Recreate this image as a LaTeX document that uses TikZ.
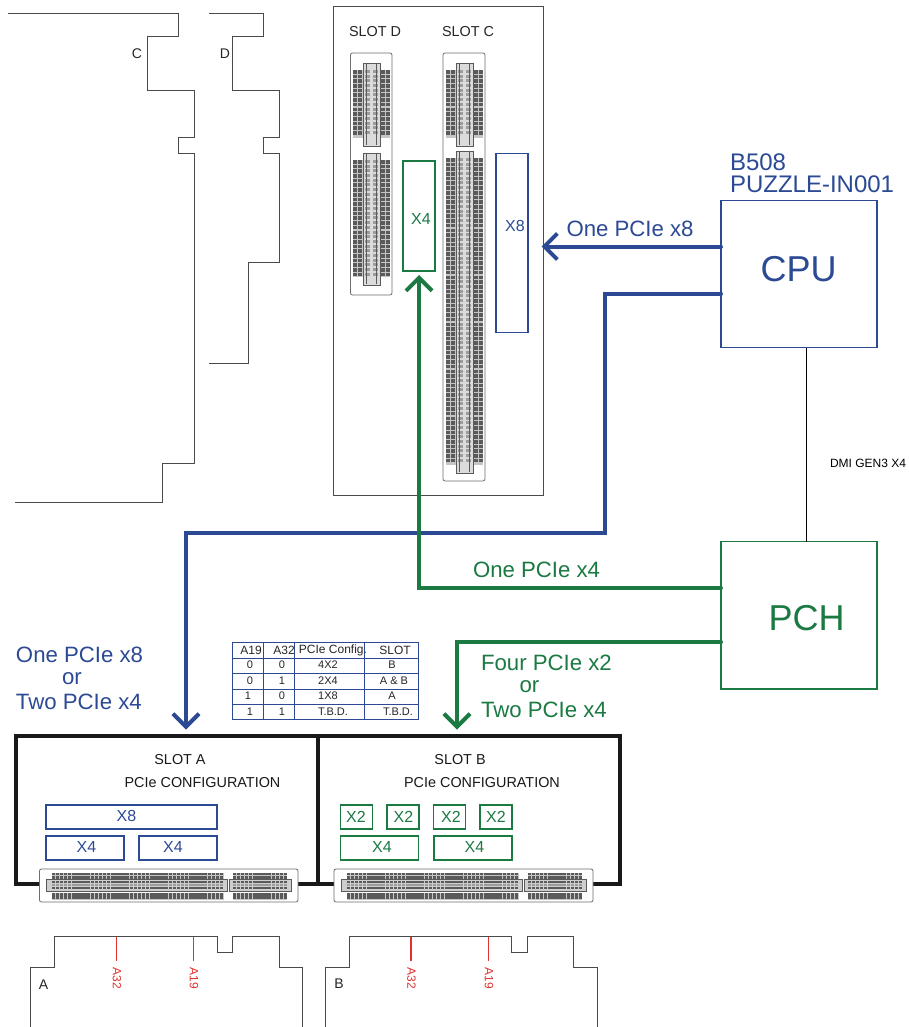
\documentclass[tikz,border=0pt]{standalone}
\usepackage{fontspec}
\setmainfont{Liberation Sans}
\usetikzlibrary{arrows.meta}
\definecolor{cblue}{HTML}{2C4A94}
\definecolor{cgreen}{HTML}{1A7A42}
\definecolor{cred}{HTML}{E0322F}
\definecolor{cout}{HTML}{4A4A4A}
\definecolor{cpin}{HTML}{5A5A5A}
\newcommand{\fs}[1]{\fontsize{#1}{#1}\selectfont}
\tikzset{
  x=1pt,y=-1pt,
  every node/.style={inner sep=0pt,outer sep=0pt},
  txt/.style={text=#1,anchor=center},
  bluebox/.style={draw=cblue,line width=1.8pt,minimum width=#1,fill=none},
  greenbox/.style={draw=cgreen,line width=1.8pt,minimum width=#1,fill=none},
  cardline/.style={draw=cout,line width=1pt},
  bluewire/.style={draw=cblue,line width=4pt,line cap=round,miter limit=10},
  greenwire/.style={draw=cgreen,line width=4pt,line cap=round,miter limit=10},
  barb/.style={-{Straight Barb[length=13pt,width=26pt,line width=4pt]}},
  slotframe/.style={draw=black!90,line width=4pt,anchor=north west},
  shell/.style={draw=cout!80,line width=0.8pt,fill=white,rounded corners=2pt},
  pin/.style={fill=cpin,draw=none},
  pinl/.style={fill=cpin!60,draw=none},
  base/.style={fill=cpin!35,draw=none},
  rail/.style={draw=cpin,line width=0.8pt},
}
% vertical connector segment: centre x, top, bottom
\newcommand{\vpins}[3]{%
  \fill[base] (#1-18.5,#2+7) rectangle (#1-8.5,#3-8);
  \fill[base] (#1+8.5,#2+7) rectangle (#1+18.5,#3-8);
  \fill[cpin!22] (#1-8.5,#2) rectangle (#1+8.5,#3);
  \pgfmathsetmacro{\ys}{#2+7}\pgfmathsetmacro{\ye}{#3-11}\pgfmathsetmacro{\yn}{\ys+4.7}%
  \foreach \yy in {\ys,\yn,...,\ye}{%
    \fill[pin] (#1-18.5,\yy) rectangle ++(4.4,3.6);
    \fill[pin] (#1-13.5,\yy) rectangle ++(4.4,3.6);
    \fill[pin] (#1+9,\yy) rectangle ++(4.4,3.6);
    \fill[pin] (#1+14,\yy) rectangle ++(4.4,3.6);
    \fill[pinl] (#1-6.5,\yy) rectangle ++(5,3);
    \fill[pinl] (#1+1.5,\yy) rectangle ++(5,3);
  }%
  \draw[rail] (#1-8.5,#2) rectangle (#1+8.5,#3);
  \draw[rail] (#1-5,#2+1) -- (#1-5,#3-1) (#1+5,#2+1) -- (#1+5,#3-1);
}
% horizontal connector segment: pin x0, x1, band x0, x1
\newcommand{\hpins}[4]{%
  \fill[base] (#1,872.5) rectangle (#2,879);
  \fill[base] (#1,893) rectangle (#2,899.5);
  \fill[cpin!30] (#3,879.5) rectangle (#4,891.5);
  \pgfmathsetmacro{\xn}{#1+3.9}\pgfmathsetmacro{\xe}{#2-3}%
  \foreach \xx in {#1,\xn,...,\xe}{%
    \fill[pin] (\xx,872.5) rectangle ++(3.3,2.8);
    \fill[pin] (\xx,875.9) rectangle ++(3.3,2.8);
    \fill[pin] (\xx,881) rectangle ++(3.3,2.4);
    \fill[pinl] (\xx,884) rectangle ++(3.3,2.2);
    \fill[pin] (\xx,887) rectangle ++(3.3,2.4);
    \fill[pin] (\xx,893) rectangle ++(3.3,2.8);
    \fill[pin] (\xx,896.4) rectangle ++(3.3,2.8);
  }%
  \draw[rail] (#3,879.5) rectangle (#4,891.5);
}
\begin{document}
\begin{tikzpicture}
\useasboundingbox (0,0) rectangle (909,1027);
\fill[white] (0,0) rectangle (909,1027);

% card outlines top left
\draw[cardline] (8,14) -- (178,14) -- (178,37) -- (147,37) -- (147,91) -- (194,91) -- (194,138) -- (178,138) -- (178,154) -- (194,154) -- (194,463) -- (162.5,463) -- (162.5,502) -- (15,502);
\draw[cardline] (209,14) -- (263,14) -- (263,37) -- (232,37) -- (232,91) -- (279,91) -- (279,138) -- (263,138) -- (263,154) -- (279,154) -- (279,262) -- (248,262) -- (248,363) -- (209,363);
\node[txt=black!85] (lblC) at (137,54) {\fs{14}C};
\node[txt=black!85] (lblD) at (225,54) {\fs{14}D};

% upper slot box
\node[draw=cout,line width=1pt,minimum width=210,minimum height=488,anchor=north west] (upper) at (333,7) {};
\node[txt=black!85] (slotD) at (375,31.5) {\fs{14.4}SLOT D};
\node[txt=black!85] (slotC) at (468,31.5) {\fs{14.4}SLOT C};
\draw[shell] (350.5,53) rectangle (392,295);
\draw[shell] (443,53) rectangle (485,481);
\vpins{371.5}{63}{146}
\vpins{371.5}{153}{285}
\vpins{464.5}{63}{146}
\vpins{464.5}{151}{473}
\node[greenbox=32,minimum height=110,anchor=north west] (upX4) at (403,161) {};
\node[txt=cgreen] (upX4t) at (421,219) {\fs{16}X4};
\node[bluebox=32,minimum height=179,anchor=north west] (upX8) at (496,153.5) {};
\node[txt=cblue] (upX8t) at (515,226) {\fs{16}X8};

% CPU / PCH
\node[txt=cblue,anchor=west] (b508) at (730,162) {\fs{24}B508};
\node[txt=cblue,anchor=west] (puzzle) at (730,184) {\fs{24}PUZZLE-IN001};
\node[bluebox=156,minimum height=147,anchor=north west] (cpu) at (721,200.5) {};
\node[txt=cblue] (cput) at (798.5,269) {\fs{36}CPU};
\node[greenbox=156,minimum height=147.5,anchor=north west] (pch) at (721,541.5) {};
\node[txt=cgreen] (pcht) at (806.5,618) {\fs{36}PCH};
\draw[black,line width=0.8pt] (cpu.south -| 806.5,0) -- (pch.north -| 806.5,0);
\node[txt=black,anchor=west] (dmi) at (830,463.5) {\fs{12}DMI GEN3 X4};

% lower slot frames
\node[slotframe,minimum width=302.5,minimum height=148,name=slotAf] at (15.5,735.5) {};
\node[slotframe,minimum width=302,minimum height=148,name=slotBf] at (318,735.5) {};

% wires
\coordinate (tipC) at (541.5,246.5);
\coordinate (tipA) at (186,729.5);
\coordinate (tipD) at (419,275);
\coordinate (tipB) at (457,729.5);
\draw[bluewire,barb] (cpu.west |- tipC) -- (tipC);
\draw[bluewire,barb] (721,293.5) -- (605,293.5) -- (605,533) -- (186,533) -- (tipA);
\draw[greenwire,barb] (721,588) -- (419,588) -- (tipD);
\draw[greenwire,barb] (721,642.3) -- (457,642.3) -- (tipB);

\node[txt=cblue,anchor=west] (l1) at (566.5,229) {\fs{22.2}One PCIe x8};
\node[txt=cgreen,anchor=west] (l2) at (473,570) {\fs{22.2}One PCIe x4};
\node[txt=cgreen,anchor=west] (l3) at (481,663) {\fs{22.2}Four PCIe x2};
\node[txt=cgreen] (l4) at (529.5,687) {\fs{22.2}or};
\node[txt=cgreen,anchor=west] (l5) at (481,710) {\fs{22.2}Two PCIe x4};
\node[txt=cblue,anchor=west] (l6) at (16,655) {\fs{22.2}One PCIe x8};
\node[txt=cblue] (l7) at (72,679) {\fs{22.2}or};
\node[txt=cblue,anchor=west] (l8) at (16,702) {\fs{22.2}Two PCIe x4};

% table
\draw[cblue,line width=0.8pt] (232.5,642.5) rectangle (418.5,719.5);
\foreach \yy in {658,673.5,689,704} \draw[cblue,line width=0.8pt] (232.5,\yy) -- (418.5,\yy);
\foreach \xx in {263.5,294.5,364.5} \draw[cblue,line width=0.8pt] (\xx,642.5) -- (\xx,719.5);
\foreach \n/\xx/\t in {ha/251/A19,hb/284/A32,hc/333/PCIe Config.,hd/395/SLOT}
  \node[txt=black!85] (\n) at (\xx,650) {\fs{12}\t};
\foreach \n/\xx/\yy/\t in {
  a1/250/665/0,b1/282/665/0,c1/328/665/4X2,d1/392/665/B,
  a2/250/681/0,b2/282/681/1,c2/328/681/2X4,d2/394/681/A \& B,
  a3/248/696/1,b3/282/696/0,c3/328/696/1X8,d3/392/696/A,
  a4/250/712/1,b4/282/712/1,c4/333/712/T.B.D.,d4/398/712/T.B.D.}
  \node[txt=black!85] (\n) at (\xx,\yy) {\fs{11}\t};

% slot A contents
\node[txt=black!90] (sa) at (180,759.5) {\fs{14.4}SLOT A};
\node[txt=black!90] (pa) at (202.5,782.5) {\fs{14.4}PCIe CONFIGURATION};
\node[bluebox=171,minimum height=24] (ax8) at (131.5,817) {};
\node[bluebox=78,minimum height=24] (ax4a) at (85,848) {};
\node[bluebox=78,minimum height=24] (ax4b) at (178,848) {};
\node[txt=cblue] (ax8t) at (126.5,815.5) {\fs{16}X8};
\node[txt=cblue] (ax4at) at (86.5,847) {\fs{16}X4};
\node[txt=cblue] (ax4bt) at (173,847) {\fs{16}X4};

% slot B contents
\node[txt=black!90] (sb) at (460,759.5) {\fs{14.4}SLOT B};
\node[txt=black!90] (pb) at (482,782.5) {\fs{14.4}PCIe CONFIGURATION};
\foreach \n/\xx/\tx in {bx1/356.5/356,bx2/403/403.5,bx3/449.5/451,bx4/496/496}{
  \node[greenbox=32,minimum height=24] (\n) at (\xx,817) {};
  \node[txt=cgreen] (\n t) at (\tx,816.5) {\fs{16}X2};
}
\node[greenbox=78,minimum height=24] (bx5) at (379.5,848) {};
\node[greenbox=78,minimum height=24] (bx6) at (473,848) {};
\node[txt=cgreen] (bx5t) at (382,847) {\fs{16}X4};
\node[txt=cgreen] (bx6t) at (474.5,847) {\fs{16}X4};

% horizontal connectors
\draw[shell] (39.5,869) rectangle (298,902);
\hpins{52}{224}{46}{227}
\hpins{233}{287}{229.5}{291}
\draw[shell] (334,869) rectangle (593,902);
\hpins{347}{519}{341}{522}
\hpins{528}{582}{524.5}{586}

% bottom cards
\draw[cardline] (30.5,1027) -- (30.5,967) -- (54,967) -- (54,936.5) -- (217,936.5) -- (217,952) -- (232.5,952) -- (232.5,936.5) -- (279,936.5) -- (279,967) -- (302.5,967) -- (302.5,1027);
\draw[cardline] (325.5,1027) -- (325.5,967.5) -- (349,967.5) -- (349,936.5) -- (511.5,936.5) -- (511.5,952) -- (527.5,952) -- (527.5,936.5) -- (573.5,936.5) -- (573.5,967.5) -- (597,967.5) -- (597,1027);
\node[txt=black!85] (lblA) at (43.5,985) {\fs{14}A};
\node[txt=black!85] (lblB) at (339,984) {\fs{14}B};
\foreach \n/\xx/\t in {r1/116.5/A32,r2/193.5/A19,r3/411/A32,r4/488.5/A19}{
  \draw[cred,line width=1.3pt] (\xx,936.5) -- (\xx,960.5);
  \node[txt=cred,rotate=-90] (\n) at (\xx+0.5,978.5) {\fs{12}\t};
}
\end{tikzpicture}
\end{document}
